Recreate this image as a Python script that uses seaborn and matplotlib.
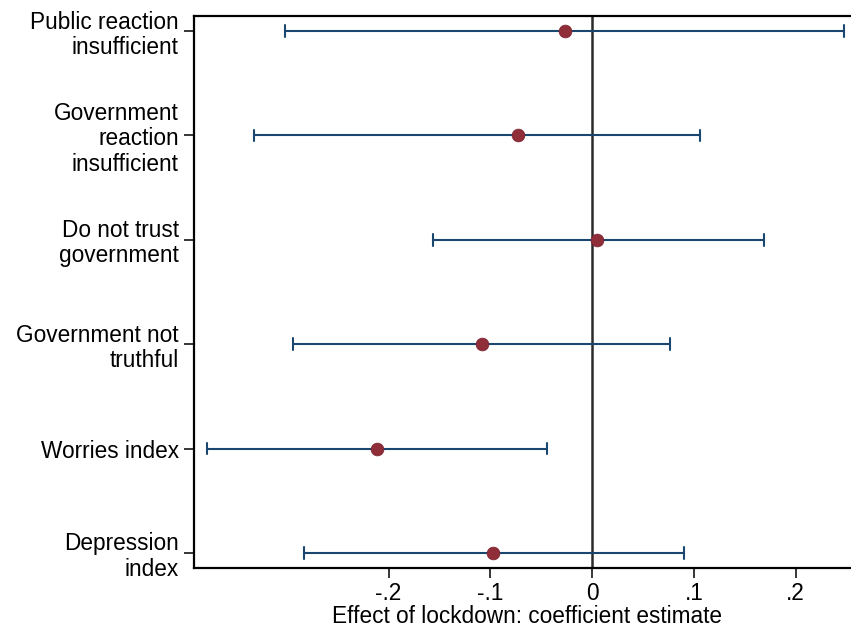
import pandas as pd
import matplotlib.pyplot as plt
import seaborn as sns

sns.set_style('white')
plt.rcParams['font.family'] = ['Liberation Sans', 'DejaVu Sans']
plt.rcParams['text.color'] = 'black'
plt.rcParams['xtick.color'] = 'black'
plt.rcParams['ytick.color'] = 'black'
plt.rcParams['axes.labelcolor'] = 'black'

outcomes = ['Public reaction\ninsufficient', 'Government\nreaction\ninsufficient',
            'Do not trust\ngovernment', 'Government not\ntruthful',
            'Worries index', 'Depression\nindex']
coef = [-0.027, -0.073, 0.005, -0.108, -0.211, -0.097]
ci_low = [-0.302, -0.332, -0.156, -0.294, -0.379, -0.283]
ci_high = [0.248, 0.106, 0.169, 0.077, -0.044, 0.090]

# long table: low / estimate / high per outcome -> median = estimate, 100% interval = CI
rows = []
for o, lo, c, hi in zip(outcomes, ci_low, coef, ci_high):
    for v in (lo, c, hi):
        rows.append({'outcome': o, 'value': v})
long_df = pd.DataFrame(rows)
est_df = pd.DataFrame({'outcome': outcomes, 'coef': coef})

fig = plt.figure(figsize=(8.51, 6.31), dpi=100)
ax = fig.add_axes([194 / 851, 1 - 568 / 631, 1 - 194 / 851 + 0.01, (568 - 16) / 631])

ax.axvline(0, color='#2b2b2b', lw=1.8, zorder=1)

sns.pointplot(data=long_df, x='value', y='outcome', order=outcomes,
              estimator='median', errorbar=('pi', 100), linestyle='none',
              markers='', color='#1a476f', capsize=0.11,
              err_kws={'linewidth': 1.5}, ax=ax, zorder=2)
sns.scatterplot(data=est_df, x='coef', y='outcome', color='#8f2d38',
                s=85, edgecolor='#7a2430', linewidth=0.5, ax=ax, zorder=3)

ax.set_xlim(-0.3913, 0.2545 + 0.01 * 851 / 1018 * 0.1 * 10)
ax.set_ylim(5.144, -0.144)
ax.set_xticks([-0.2, -0.1, 0, 0.1, 0.2])
ax.set_xticklabels(['-.2', '-.1', '0', '.1', '.2'])
ax.set_xlabel('Effect of lockdown: coefficient estimate', fontsize=16.3, labelpad=0)
ax.set_ylabel('')
ax.tick_params(axis='both', labelsize=16.3, length=7, width=1.1,
               left=True, bottom=True)
ax.tick_params(axis='y', pad=4)
ax.tick_params(axis='x', pad=3)
for lab in ax.get_yticklabels():
    lab.set_horizontalalignment('right')
    lab.set_multialignment('right')
    lab.set_linespacing(1.12)

for s in ['left', 'bottom', 'top']:
    ax.spines[s].set_color('black')
    ax.spines[s].set_linewidth(1.6)
ax.spines['right'].set_visible(False)

plt.savefig('out.png', dpi=100)
